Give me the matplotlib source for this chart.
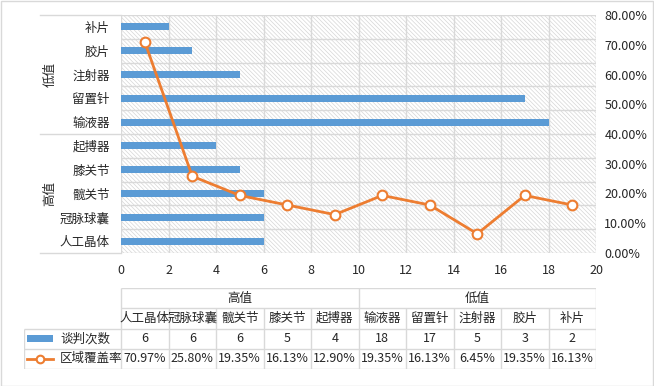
import numpy as np
import matplotlib
matplotlib.use("Agg")
import matplotlib.pyplot as plt
from matplotlib.patches import Rectangle
from matplotlib.lines import Line2D
from matplotlib.ticker import PercentFormatter

plt.rcParams['font.family'] = ['Noto Sans CJK SC', 'DejaVu Sans']
plt.rcParams['hatch.color'] = '#d6d6d6'
plt.rcParams['hatch.linewidth'] = 0.5

# ---- data ----------------------------------------------------------------
categories = ["人工晶体", "冠脉球囊", "髋关节", "膝关节", "起搏器",
              "输液器", "留置针", "注射器", "胶片", "补片"]
groups = ["高值", "低值"]
group_size = 5
talks = [6, 6, 6, 5, 4, 18, 17, 5, 3, 2]
coverage = [70.97, 25.80, 19.35, 16.13, 12.90, 19.35, 16.13, 6.45, 19.35, 16.13]
coverage_labels = ["70.97%", "25.80%", "19.35%", "16.13%", "12.90%",
                   "19.35%", "16.13%", "6.45%", "19.35%", "16.13%"]
series_names = ["谈判次数", "区域覆盖率"]

BLUE = "#5B9BD5"
ORANGE = "#ED7D31"
GRID = "#d9d9d9"
TXT = "#262626"

W, H = 654, 386
fig = plt.figure(figsize=(W / 100, H / 100), dpi=100)

def px(x0, y0, x1, y1):
    return [x0 / W, 1 - y1 / H, (x1 - x0) / W, (y1 - y0) / H]

# outer frame
fig.patches.append(Rectangle((0.5 / W, 0.5 / H), 1 - 1.5 / W, 1 - 1.5 / H,
                             transform=fig.transFigure, fill=False,
                             edgecolor=GRID, lw=1))

# ---- main chart ------------------------------------------------------------
ax = fig.add_axes(px(121, 15, 596, 253))
n = len(categories)
ypos = np.arange(n)
ax.add_patch(Rectangle((0, 0), 1, 1, transform=ax.transAxes, facecolor='white',
                       hatch='\\' * 8, edgecolor='#d6d6d6', lw=0, zorder=0))
ax.barh(ypos, talks, height=0.3, color=BLUE, zorder=3)
ax.set_ylim(-0.5, n - 0.5)
ax.set_xlim(0, 20)
ax.set_xticks(np.arange(0, 21, 2))
ax.set_yticks(ypos)
ax.set_yticklabels(categories)
ax.set_yticks(np.arange(-0.5, n, 1), minor=True)
ax.grid(True, which='minor', axis='y', color=GRID, lw=1, zorder=1)
ax.grid(True, which='major', axis='x', color=GRID, lw=1, zorder=1)
ax.tick_params(axis='y', which='both', length=0, pad=8, labelsize=9, labelcolor=TXT)
ax.tick_params(axis='x', length=0, pad=8, labelsize=9, labelcolor=TXT)
for s in ax.spines.values():
    s.set_visible(False)

# group labels and separators on the left
x_sep = (40 - 121) / 475
for b in [-0.5, group_size - 0.5, n - 0.5]:
    ax.plot([x_sep, 0], [b, b], transform=ax.get_yaxis_transform(),
            color=GRID, lw=1, clip_on=False)
for gi, g in enumerate(groups):
    yc = gi * group_size + (group_size - 1) / 2
    ax.text((50 - 121) / 475, yc, g, transform=ax.get_yaxis_transform(),
            rotation=90, ha='center', va='center', fontsize=9, color=TXT)

# secondary axis with the coverage line
ax2 = ax.twinx()
line_x = 2 * np.arange(n) + 1
ax2.plot(line_x, coverage, color=ORANGE, lw=2, marker='o', ms=7,
         mfc='white', mec=ORANGE, mew=1.5, zorder=5, clip_on=False)
ax2.set_ylim(0, 80)
ax2.set_yticks(np.arange(0, 81, 10))
ax2.yaxis.set_major_formatter(PercentFormatter(decimals=2))
ax2.tick_params(axis='y', length=0, pad=6, labelsize=9, labelcolor=TXT)
for s in ax2.spines.values():
    s.set_visible(False)

# ---- data table ------------------------------------------------------------
tx0, tx1 = 24, 596
unit = 475 / 20
left_units = -(121 - tx0) / unit
tax = fig.add_axes(px(tx0, 288, tx1, 369))
tax.set_xlim(left_units, 20)
tax.set_ylim(4, 0)
tax.axis('off')
lc = dict(color=GRID, lw=1, solid_capstyle='butt')
# horizontal lines
tax.plot([0, 20], [0, 0], **lc)
tax.plot([0, 20], [1, 1], **lc)
for yy in [2, 3, 4]:
    tax.plot([left_units, 20], [yy, yy], **lc)
# vertical lines
tax.plot([left_units, left_units], [2, 4], **lc)
for i in range(n + 1):
    xb = 2 * i
    if i in (0, group_size, n):
        tax.plot([xb, xb], [0, 4], **lc)
    else:
        tax.plot([xb, xb], [1, 4], **lc)
# group headers
for gi, g in enumerate(groups):
    xc = 2 * (gi * group_size + group_size / 2)
    tax.text(xc, 0.5, g, ha='center', va='center', fontsize=9, color=TXT)
for i, c in enumerate(categories):
    tax.text(2 * i + 1, 1.5, c, ha='center', va='center', fontsize=9, color=TXT)
    tax.text(2 * i + 1, 2.5, str(talks[i]), ha='center', va='center', fontsize=9, color=TXT)
    tax.text(2 * i + 1, 3.5, coverage_labels[i], ha='center', va='center', fontsize=9, color=TXT)
# legend keys
k0 = left_units + 3 / unit
k1 = left_units + 29 / unit
tax.add_patch(Rectangle((k0, 2.32), k1 - k0, 0.36, facecolor=BLUE, edgecolor='none'))
tax.add_line(Line2D([k0, k1], [3.5, 3.5], color=ORANGE, lw=2))
tax.add_line(Line2D([(k0 + k1) / 2], [3.5], marker='o', ms=5.5, mfc='white',
                    mec=ORANGE, mew=1.5))
tx_lab = left_units + 36 / unit
tax.text(tx_lab, 2.5, series_names[0], ha='left', va='center', fontsize=9, color=TXT)
tax.text(tx_lab, 3.5, series_names[1], ha='left', va='center', fontsize=9, color=TXT)

fig.savefig("out.png", dpi=100)
